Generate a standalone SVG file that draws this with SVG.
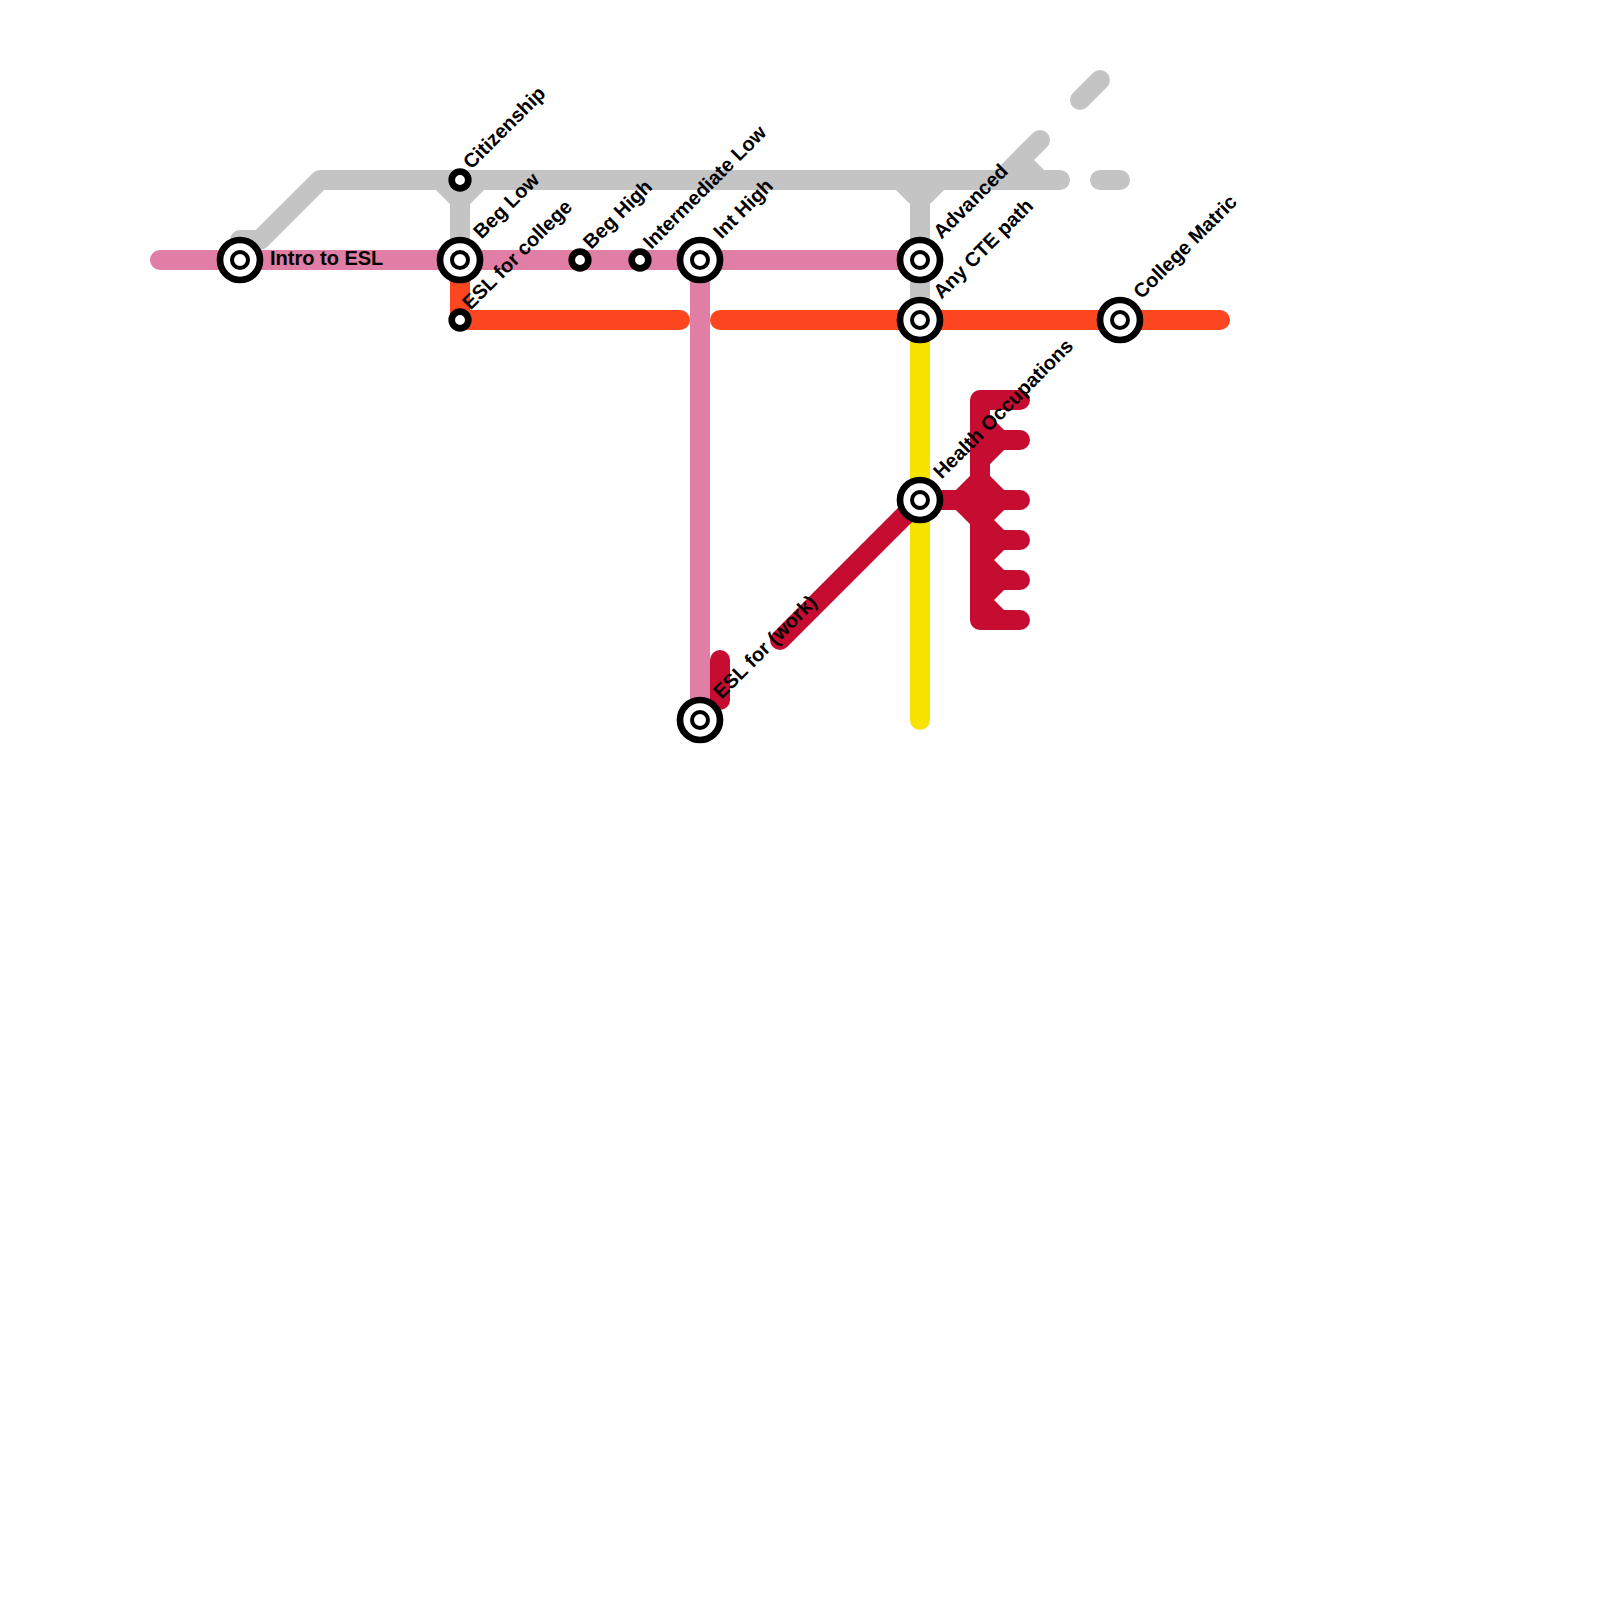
<svg xmlns="http://www.w3.org/2000/svg" width="1600" height="1600" viewBox="0 0 1600 1600">
<style>
.ln{fill:none;stroke-width:20;stroke-linecap:round;stroke-linejoin:round}
.gray{stroke:#C4C4C4}
.pink{stroke:#E07EA5}
.orange{stroke:#FC4620}
.yellow{stroke:#F8E300}
.red{stroke:#C60C30}
.st-o{fill:#fff;stroke:#000;stroke-width:6.7}
.st-i{fill:#fff;stroke:#000;stroke-width:4}
.st-s{fill:#fff;stroke:#000;stroke-width:6.7}
.lbl{font-family:"Liberation Sans",Arial,sans-serif;font-weight:bold;font-size:20px;fill:#000}
</style>
<rect width="1600" height="1600" fill="#fff"/>
<g id="connectors">
<path class="ln gray" d="M240,240 H260 L320,180 H1060"/>
<path class="ln gray" d="M440,180 L460,200 V260 M480,180 L460,200"/>
<path class="ln gray" d="M900,180 L920,200 V320 M940,180 L920,200"/>
<path class="ln gray" d="M1000,180 L1020,160 L1040,140 M1040,180 L1020,160"/>
<path class="ln gray" d="M1080,100 L1100,80"/>
<path class="ln gray" d="M1100,180 H1120"/>
<path class="ln pink" d="M160,260 H920"/>
<path class="ln pink" d="M700,260 V720"/>
<path class="ln orange" d="M460,260 V320 H680"/>
<path class="ln orange" d="M720,320 H1220"/>
<path class="ln yellow" d="M920,320 V720"/>
<path class="ln red" d="M920,500 L780,640"/>
<path class="ln red" d="M720,660 V700"/>
<path class="ln red" d="M1020,400 H980 V620 H1020"/>
<path class="ln red" d="M920,500 H1020"/>
<path class="ln red" d="M980,420 L1000,440 H1020 M980,460 L1000,440"/>
<path class="ln red" d="M960,500 L980,480 L1000,500 M960,500 L980,520 L1000,500"/>
<path class="ln red" d="M980,520 L1000,540 H1020 M980,560 L1000,540"/>
<path class="ln red" d="M980,560 L1000,580 H1020 M980,600 L1000,580"/>
<path class="ln red" d="M980,600 L1000,620"/>
</g>
<g id="intro-to-esl"><circle class="st-o" cx="240" cy="260" r="20"/><circle class="st-i" cx="240" cy="260" r="8"/><text class="lbl" x="270" y="265">Intro to ESL</text></g>
<g id="citizenship"><circle class="st-s" cx="460" cy="180" r="8.3"/><text class="lbl" transform="translate(460,180) rotate(-45)" x="15" y="1">Citizenship</text></g>
<g id="beg-low"><circle class="st-o" cx="460" cy="260" r="20"/><circle class="st-i" cx="460" cy="260" r="8"/><text class="lbl" transform="translate(460,260) rotate(-45)" x="29.5" y="1">Beg Low</text></g>
<g id="esl-for-college"><circle class="st-s" cx="460" cy="320" r="8.3"/><text class="lbl" transform="translate(460,320) rotate(-45)" x="14" y="1">ESL for college</text></g>
<g id="beg-high"><circle class="st-s" cx="580" cy="260" r="8.3"/><text class="lbl" transform="translate(580,260) rotate(-45)" x="15" y="1">Beg High</text></g>
<g id="intermediate-low"><circle class="st-s" cx="640" cy="260" r="8.3"/><text class="lbl" transform="translate(640,260) rotate(-45)" x="15" y="1">Intermediate Low</text></g>
<g id="int-high"><circle class="st-o" cx="700" cy="260" r="20"/><circle class="st-i" cx="700" cy="260" r="8"/><text class="lbl" transform="translate(700,260) rotate(-45)" x="29.5" y="1">Int High</text></g>
<g id="advanced"><circle class="st-o" cx="920" cy="260" r="20"/><circle class="st-i" cx="920" cy="260" r="8"/><text class="lbl" transform="translate(920,260) rotate(-45)" x="29.5" y="1">Advanced</text></g>
<g id="any-cte-path"><circle class="st-o" cx="920" cy="320" r="20"/><circle class="st-i" cx="920" cy="320" r="8"/><text class="lbl" transform="translate(920,320) rotate(-45)" x="29.5" y="1">Any CTE path</text></g>
<g id="college-matric"><circle class="st-o" cx="1120" cy="320" r="20"/><circle class="st-i" cx="1120" cy="320" r="8"/><text class="lbl" transform="translate(1120,320) rotate(-45)" x="29.5" y="1">College Matric</text></g>
<g id="health-occupations"><circle class="st-o" cx="920" cy="500" r="20"/><circle class="st-i" cx="920" cy="500" r="8"/><text class="lbl" transform="translate(920,500) rotate(-45)" x="29.5" y="1">Health Occupations</text></g>
<g id="esl-for-work"><circle class="st-o" cx="700" cy="720" r="20"/><circle class="st-i" cx="700" cy="720" r="8"/><text class="lbl" transform="translate(700,720) rotate(-45)" x="29.5" y="1">ESL for (work)</text></g>
</svg>
